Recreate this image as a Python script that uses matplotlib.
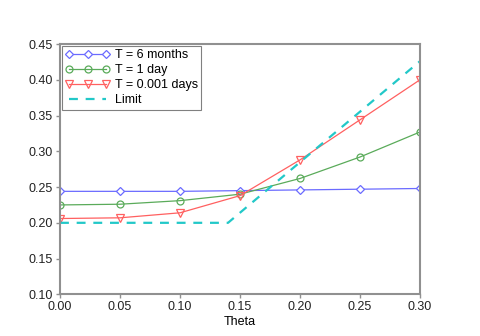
import matplotlib
matplotlib.use('Agg')
from matplotlib import pyplot as plt

# data
theta = [0.0, 0.05, 0.10, 0.15, 0.20, 0.25, 0.30]
t_6months = [0.244, 0.244, 0.244, 0.245, 0.246, 0.247, 0.248]
t_1day = [0.225, 0.226, 0.231, 0.240, 0.262, 0.292, 0.327]
t_0001days = [0.206, 0.207, 0.214, 0.238, 0.288, 0.344, 0.400]
limit_x = [0.0, 0.14, 0.30]
limit_y = [0.200, 0.200, 0.426]

plt.rcParams['font.family'] = ['Liberation Sans', 'DejaVu Sans']
plt.rcParams['font.size'] = 9

fig = plt.figure(figsize=(4.8, 3.36), dpi=100)
ax = fig.add_axes([0.125, 0.124, 0.75, 0.745])

ax.plot(theta, t_6months, color='#6b6bff', lw=0.9, marker='D', ms=3.6,
        mfc='white', mec='#6b6bff', mew=0.9, label='T = 6 months')
ax.plot(theta, t_1day, color='#5aab5a', lw=0.9, marker='o', ms=5,
        mfc='none', mec='#5aab5a', mew=0.9, label='T = 1 day')
ax.plot(theta, t_0001days, color='#ff6060', lw=0.9, marker='v', ms=6,
        mfc='none', mec='#ff6060', mew=0.9, label='T = 0.001 days')
ax.plot(limit_x, limit_y, color='#22c8c8', lw=1.6, ls=(0, (4, 3.5)),
        label='Limit')

ax.set_xlim(0, 0.3)
ax.set_ylim(0.1, 0.45)
ax.set_xticks(theta)
ax.set_xticklabels(['%.2f' % v for v in theta])
ax.set_yticks([0.10, 0.15, 0.20, 0.25, 0.30, 0.35, 0.40, 0.45])
ax.set_yticklabels(['%.2f' % v for v in ax.get_yticks()])
ax.set_xlabel('Theta', labelpad=2)

for s in ax.spines.values():
    s.set_color('#909090')
    s.set_linewidth(1.5)
ax.tick_params(direction='out', length=3, width=1, color='#909090',
               labelcolor='#222222', pad=2)

leg = ax.legend(loc='upper left', borderaxespad=0.15, fancybox=False,
                framealpha=1, edgecolor='#808080', handlelength=3.6,
                numpoints=3, labelspacing=0.25, borderpad=0.25,
                handletextpad=0.4)
leg.get_frame().set_linewidth(0.8)

fig.savefig('out.png', dpi=100)
